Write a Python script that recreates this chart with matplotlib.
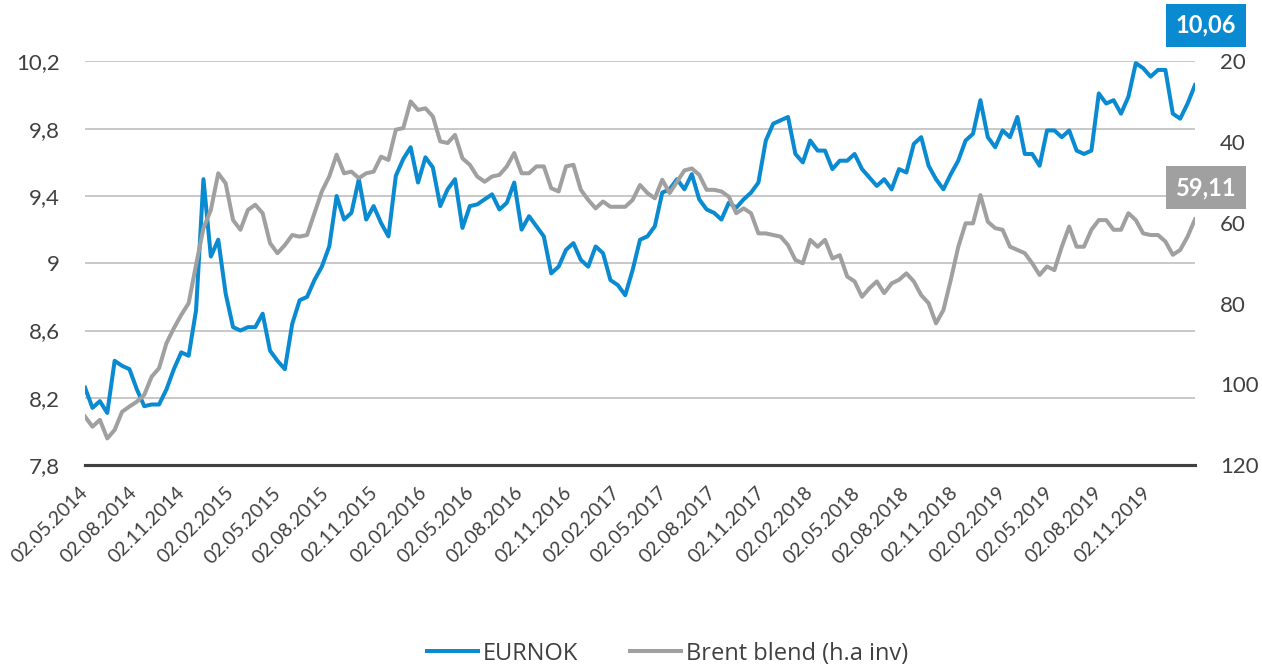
import pandas as pd
import matplotlib
matplotlib.use("Agg")
import matplotlib.pyplot as plt

# values, one point per two weeks from 02.05.2014
start_date = "2014-05-02"
eurnok = [8.26, 8.14, 8.18, 8.11, 8.42, 8.39, 8.37, 8.25, 8.15, 8.16,
          8.16, 8.25, 8.37, 8.47, 8.45, 8.72, 9.50, 9.04, 9.14, 8.82,
          8.62, 8.60, 8.62, 8.62, 8.70, 8.48, 8.42, 8.37, 8.64, 8.78,
          8.80, 8.90, 8.98, 9.10, 9.40, 9.26, 9.30, 9.50, 9.26, 9.34,
          9.24, 9.16, 9.52, 9.62, 9.69, 9.48, 9.63, 9.57, 9.34, 9.44,
          9.50, 9.21, 9.34, 9.35, 9.38, 9.41, 9.32, 9.36, 9.48, 9.20,
          9.28, 9.22, 9.16, 8.94, 8.98, 9.08, 9.12, 9.02, 8.98, 9.10,
          9.06, 8.90, 8.87, 8.81, 8.96, 9.14, 9.16, 9.22, 9.42, 9.44,
          9.50, 9.44, 9.53, 9.38, 9.32, 9.30, 9.26, 9.36, 9.33, 9.38,
          9.42, 9.48, 9.73, 9.83, 9.85, 9.87, 9.65, 9.60, 9.73, 9.67,
          9.67, 9.56, 9.61, 9.61, 9.65, 9.56, 9.51, 9.46, 9.50, 9.44,
          9.56, 9.54, 9.71, 9.75, 9.58, 9.50, 9.44, 9.53, 9.61, 9.73,
          9.77, 9.97, 9.75, 9.69, 9.79, 9.75, 9.87, 9.65, 9.65, 9.58,
          9.79, 9.79, 9.75, 9.79, 9.67, 9.65, 9.67, 10.01, 9.95, 9.97,
          9.89, 9.99, 10.19, 10.16, 10.11, 10.15, 10.15, 9.89, 9.86, 9.95,
          10.06]
brent = [108.0, 110.5, 108.8, 113.4, 111.3, 106.8, 105.5, 104.3, 102.6, 98.1,
         96.0, 89.8, 86.1, 82.8, 79.9, 70.4, 61.3, 56.8, 47.7, 50.2,
         59.3, 61.7, 56.8, 55.5, 57.6, 65.0, 67.5, 65.5, 63.0, 63.4,
         63.0, 57.6, 52.2, 48.5, 43.1, 47.7, 47.3, 48.9, 47.7, 47.3,
         43.6, 44.4, 36.9, 36.5, 29.9, 32.0, 31.6, 33.6, 39.8, 40.2,
         38.2, 44.0, 45.6, 48.5, 49.8, 48.5, 48.1, 46.0, 42.7, 47.7,
         47.7, 46.0, 46.0, 51.4, 52.2, 46.0, 45.6, 51.8, 54.3, 56.4,
         54.7, 56.0, 56.0, 56.0, 54.3, 50.6, 52.6, 53.9, 49.3, 52.6,
         49.8, 47.0, 46.5, 48.1, 51.8, 51.8, 52.2, 53.5, 57.6, 56.4,
         57.6, 62.6, 62.6, 63.0, 63.4, 65.5, 69.2, 70.0, 64.2, 65.9,
         64.2, 68.8, 68.0, 73.3, 74.5, 78.3, 76.2, 74.5, 77.4, 75.0,
         74.1, 72.5, 74.5, 77.9, 79.9, 84.9, 81.6, 74.1, 66.0, 60.1,
         60.1, 53.1, 59.7, 61.3, 61.7, 65.9, 66.7, 67.5, 70.0, 72.9,
         70.8, 71.7, 65.9, 60.9, 65.9, 65.9, 61.7, 59.3, 59.3, 61.7,
         61.7, 57.6, 59.3, 62.6, 63.0, 63.0, 64.6, 67.9, 66.7, 63.4,
         59.11]
left_ticks = [7.8, 8.2, 8.6, 9.0, 9.4, 9.8, 10.2]
left_labels = ["7,8", "8,2", "8,6", "9", "9,4", "9,8", "10,2"]
right_ticks = [20, 40, 60, 80, 100, 120]
last_eurnok = "10,06"
last_brent = "59,11"

blue = "#0A8BD1"
grey = "#A0A0A0"
text_col = "#404040"

dates = pd.date_range(start_date, periods=len(eurnok), freq="14D")
tick_dates = pd.date_range(start_date, "2019-11-02", freq=pd.DateOffset(months=3))

plt.rcParams['font.family'] = ['Lato', 'DejaVu Sans']

fig = plt.figure(figsize=(12.62, 6.67), dpi=100)
ax = fig.add_axes([0.0674, 0.3028, 0.8795, 0.605])
ax2 = ax.twinx()

ax.plot(dates, eurnok, color=blue, lw=2.9, solid_joinstyle="round", label="EURNOK")
ax2.plot(dates, brent, color=grey, lw=2.9, solid_joinstyle="round", label="Brent blend (h.a inv)")

ax.set_ylim(7.8, 10.2)
ax.set_yticks(left_ticks)
ax.set_yticklabels(left_labels)
ax2.set_ylim(120, 20)
ax2.set_yticks(right_ticks)
ax2.set_yticklabels([str(t) for t in right_ticks])
ax.set_xlim(dates[0], dates[-1])

ax.grid(axis="y", color="#BFBFBF", lw=1.2)
ax.set_axisbelow(True)
for a in (ax, ax2):
    for s in ("left", "right", "top"):
        a.spines[s].set_visible(False)
    a.spines["bottom"].set_color("#404040")
    a.spines["bottom"].set_linewidth(2.2)
    a.tick_params(length=0, labelsize=16, labelcolor=text_col)
ax.tick_params(axis="y", pad=18)
ax2.tick_params(axis="y", pad=18)

ax.set_xticks(tick_dates)
ax.set_xticklabels([d.strftime("%d.%m.%Y") for d in tick_dates],
                   rotation=45, ha="right", va="center", rotation_mode="anchor",
                   fontsize=14)
ax.tick_params(axis="x", pad=18)

# last value boxes
fig.text(0.9555, 0.962, last_eurnok, color="white", fontsize=17, fontweight="bold",
         ha="center", va="center",
         bbox=dict(boxstyle="square,pad=0.42", fc=blue, ec="none"))
fig.text(0.9555, 0.719, last_brent, color="white", fontsize=17, fontweight="bold",
         ha="center", va="center",
         bbox=dict(boxstyle="square,pad=0.42", fc=grey, ec="none"))

h1, l1 = ax.get_legend_handles_labels()
h2, l2 = ax2.get_legend_handles_labels()
fig.legend(h1 + h2, l1 + l2, loc="center", bbox_to_anchor=(0.529, 0.02), ncol=2,
           frameon=False, handlelength=2.15, handletextpad=0.2, columnspacing=2.2,
           prop={"family": "Open Sans", "size": 17}, labelcolor=text_col)

fig.savefig("out.png", dpi=100)
